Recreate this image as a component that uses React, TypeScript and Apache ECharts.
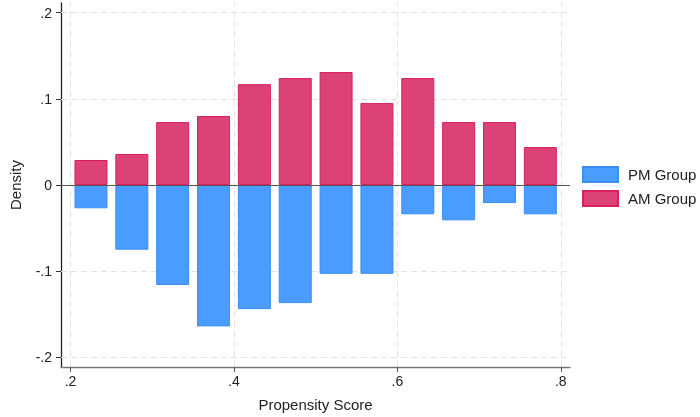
import React, { useEffect, useRef } from "react";
import * as echarts from "echarts";

const binCenters = [0.225, 0.275, 0.325, 0.375, 0.425, 0.475, 0.525, 0.575, 0.625, 0.675, 0.725, 0.775];
const amGroup = [0.029, 0.036, 0.073, 0.080, 0.117, 0.124, 0.131, 0.095, 0.124, 0.073, 0.073, 0.044];
const pmGroup = [-0.027, -0.075, -0.116, -0.164, -0.144, -0.137, -0.103, -0.103, -0.034, -0.041, -0.021, -0.034];
const xTicks = [0.2, 0.4, 0.6, 0.8];
const yTicks = [-0.2, -0.1, 0, 0.1, 0.2];

const fmt = (v: number) => {
  if (Math.abs(v) < 1e-9) return "0";
  const s = String(Math.abs(Math.round(v * 1000) / 1000)).replace(/^0/, "");
  return (v < 0 ? "-" : "") + s;
};

const FONT = "'Liberation Sans', Arial, sans-serif";

export default function App() {
  const ref = useRef<HTMLDivElement>(null);
  useEffect(() => {
    if (!ref.current) return;
    const chart = echarts.init(ref.current, null, { renderer: "svg" });
    const gridStyle = { color: "#e3e3e3", width: 1, type: [6, 4] as any };
    chart.setOption({
      animation: false,
      textStyle: { fontFamily: FONT },
      grid: { left: 59, right: 130, top: 3, bottom: 50 },
      legend: {
        orient: "vertical",
        left: 582,
        top: 166,
        padding: 0,
        itemWidth: 35,
        itemHeight: 15,
        itemGap: 7,
        icon: "rect",
        data: ["PM Group", "AM Group"],
        textStyle: { fontSize: 15, color: "#222", fontFamily: FONT, padding: [0, 0, 0, 5] },
      },
      xAxis: {
        type: "value",
        min: 0.1883,
        max: 0.8113,
        name: "Propensity Score",
        nameLocation: "middle",
        nameGap: 30,
        nameTextStyle: { fontSize: 15, color: "#222", fontFamily: FONT },
        axisLine: { show: true, onZero: false, lineStyle: { color: "#777", width: 1.3 } },
        axisTick: { show: true, length: 5, customValues: xTicks, lineStyle: { color: "#555" } },
        axisLabel: { customValues: xTicks, formatter: fmt, fontSize: 14, color: "#222", margin: 7, fontFamily: FONT },
        splitLine: { show: false },
      },
      yAxis: {
        type: "value",
        min: -0.2111,
        max: 0.2111,
        name: "Density",
        nameLocation: "middle",
        nameGap: 38,
        nameTextStyle: { fontSize: 15, color: "#222", fontFamily: FONT },
        axisLine: { show: true, onZero: false, lineStyle: { color: "#222", width: 1.3 } },
        axisTick: { show: true, length: 5, customValues: yTicks, lineStyle: { color: "#333" } },
        axisLabel: { customValues: yTicks, formatter: fmt, fontSize: 14, color: "#222", margin: 9, fontFamily: FONT },
        splitLine: { show: false },
      },
      series: [
        {
          name: "PM Group",
          type: "bar",
          barWidth: 33,
          barGap: "-100%",
          z: 2,
          itemStyle: { color: "#4a9cff", borderColor: "#3a8ef6", borderWidth: 1 },
          data: binCenters.map((x, i) => [x, pmGroup[i]]),
          markLine: {
            silent: true,
            symbol: "none",
            z: 1,
            label: { show: false },
            lineStyle: gridStyle,
            data: [
              ...xTicks.map((v) => ({ xAxis: v })),
              ...yTicks.filter((v) => v !== 0).map((v) => ({ yAxis: v })),
            ],
          },
        },
        {
          name: "AM Group",
          type: "bar",
          barWidth: 33,
          barGap: "-100%",
          z: 2,
          itemStyle: { color: "#dc4177", borderColor: "#d81f5f", borderWidth: 1 },
          data: binCenters.map((x, i) => [x, amGroup[i]]),
          markLine: {
            silent: true,
            symbol: "none",
            z: 6,
            label: { show: false },
            lineStyle: { color: "#555", width: 1.2, type: "solid" },
            data: [{ yAxis: 0 }],
          },
        },
      ],
    });
    return () => chart.dispose();
  }, []);
  return <div ref={ref} style={{ position: "fixed", left: 0, top: 0, width: 700, height: 417 }} />;
}
